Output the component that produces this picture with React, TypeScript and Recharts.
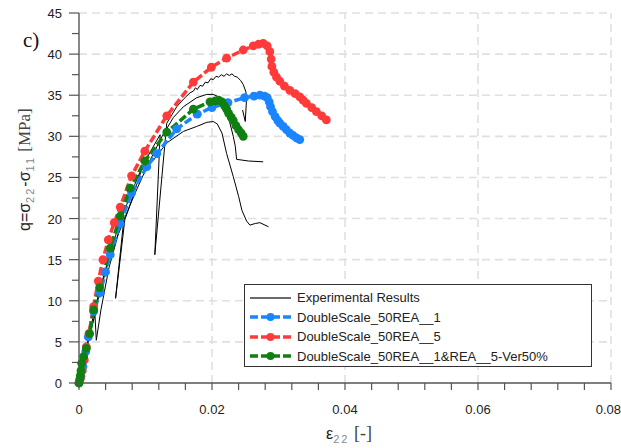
import React from 'react';
import { LineChart, Line, XAxis, YAxis, ReferenceLine } from 'recharts';

type Pt = { x: number; y: number };

// strain eps22 [-], stress q [MPa]
const blueSeries = [
  [0, 0], [0.0003, 0.8], [0.0006, 2.0], [0.001, 3.8], [0.0014, 5.6], [0.0022, 8.7],
  [0.0032, 11.0], [0.004, 13.5], [0.0047, 15.6], [0.0062, 19.4], [0.0079, 23.1],
  [0.0102, 26.3], [0.0117, 27.9], [0.0147, 30.9], [0.0178, 32.7], [0.02, 33.5],
  [0.0224, 34.1], [0.0249, 34.7], [0.0263, 34.9], [0.0272, 35.0], [0.0279, 34.9],
  [0.0283, 34.7], [0.0286, 34.2], [0.0288, 33.6], [0.0291, 33.0], [0.0295, 32.4],
  [0.0299, 31.9], [0.0302, 31.6], [0.0307, 31.2], [0.0312, 30.8], [0.0317, 30.4],
  [0.0322, 30.1], [0.0327, 29.8], [0.0332, 29.6],
];

const redSeries = [
  [0, 0], [0.0002, 0.5], [0.0005, 1.5], [0.0008, 2.8], [0.0011, 4.4], [0.0015, 6.0],
  [0.0022, 9.3], [0.0029, 12.4], [0.0036, 15.0], [0.0044, 17.4], [0.0053, 19.5],
  [0.0062, 21.4], [0.0079, 25.2], [0.0099, 28.2], [0.0132, 32.5], [0.0172, 36.6],
  [0.0199, 38.4], [0.0222, 39.5], [0.0247, 40.5], [0.0262, 41.0], [0.027, 41.2],
  [0.0277, 41.3], [0.0283, 41.0], [0.0287, 40.3], [0.0289, 39.4], [0.029, 38.5],
  [0.0293, 37.8], [0.0297, 37.2], [0.0302, 36.7], [0.0309, 36.1], [0.0317, 35.6],
  [0.0325, 35.2], [0.0332, 34.8], [0.0337, 34.4], [0.0342, 34.0], [0.035, 33.5],
  [0.0357, 33.0], [0.0365, 32.5], [0.0372, 32.0],
];

const greenSeries = [
  [0, 0], [0.0001, 0.4], [0.0002, 0.9], [0.0003, 1.5], [0.0004, 2.4], [0.0007, 3.2],
  [0.0011, 4.2], [0.0016, 6.0], [0.0022, 8.9], [0.0031, 11.6], [0.0047, 16.4],
  [0.0062, 20.3], [0.0077, 23.7], [0.0099, 27.0], [0.0132, 30.5], [0.0172, 33.3],
  [0.0197, 34.2], [0.0205, 34.3], [0.021, 34.4], [0.0215, 34.2], [0.0219, 33.7],
  [0.0222, 33.3], [0.0225, 32.8], [0.0229, 32.3], [0.0232, 31.9], [0.0236, 31.3],
  [0.024, 30.8], [0.0244, 30.4], [0.0247, 30.0],
];

// experimental tests (with unload/reload loops)
const expUpper = [
  [0, 0], [0.001, 3.8], [0.002, 7.6], [0.003, 11.0], [0.0045, 15.3], [0.006, 19.2],
  [0.0078, 23.0], [0.0095, 26.3], [0.0112, 28.8], [0.0122, 30.2], [0.0114, 15.6],
  [0.0132, 31.6], [0.0147, 33.6], [0.0158, 34.6], [0.0167, 35.3], [0.0172, 35.5],
  [0.0175, 35.9], [0.0178, 35.7], [0.0182, 36.2], [0.0186, 36.1], [0.019, 36.6],
  [0.0194, 36.5], [0.0198, 37.0], [0.0202, 36.9], [0.0206, 37.3], [0.021, 37.2],
  [0.0214, 37.5], [0.0218, 37.3], [0.0222, 37.6], [0.0226, 37.4], [0.023, 37.6],
  [0.0234, 37.3], [0.0238, 37.2], [0.0243, 36.8], [0.0247, 36.3], [0.0251, 35.4],
  [0.0252, 34.6], [0.0251, 33.2], [0.025, 31.8], [0.0246, 33.2],
];

const expMiddle = [
  [0, 0], [0.0012, 4.5], [0.0024, 8.3], [0.0026, 5.2], [0.0033, 8.9], [0.0045, 14.0],
  [0.006, 18.4], [0.0085, 23.2], [0.0105, 26.8], [0.0125, 30.0], [0.0142, 32.3],
  [0.0157, 33.6], [0.0177, 34.7], [0.0192, 35.1], [0.0202, 35.1], [0.021, 34.8],
  [0.0217, 34.4], [0.0222, 32.8], [0.0227, 31.6], [0.0232, 30.0], [0.0235, 28.8],
  [0.0237, 27.2], [0.0255, 27.0], [0.0277, 26.9],
];

const expLower = [
  [0, 0], [0.0015, 5.5], [0.003, 10.6], [0.0045, 15.0], [0.0058, 17.9], [0.0067, 19.6],
  [0.0055, 10.3], [0.0069, 19.9], [0.0074, 21.0], [0.0094, 25.9], [0.0112, 27.1],
  [0.0132, 29.2], [0.0157, 30.6], [0.0177, 31.2], [0.0192, 31.7], [0.0202, 31.8],
  [0.0208, 31.5], [0.0215, 30.4], [0.0222, 27.9], [0.0232, 25.1], [0.024, 22.7],
  [0.0245, 21.0], [0.0252, 19.7], [0.0257, 19.2], [0.0265, 19.4], [0.0272, 19.5],
  [0.0285, 19.0],
];

const xTicks = [
  0, 0.004, 0.008, 0.012, 0.016, 0.02, 0.024, 0.028, 0.032, 0.036, 0.04,
  0.044, 0.048, 0.052, 0.056, 0.06, 0.064, 0.068, 0.072, 0.076, 0.08,
];
const xLabels = [0, 0.02, 0.04, 0.06, 0.08];
const yTicks = [
  0, 2.5, 5, 7.5, 10, 12.5, 15, 17.5, 20, 22.5, 25, 27.5, 30, 32.5, 35, 37.5, 40, 42.5, 45,
];
const yLabels = [0, 5, 10, 15, 20, 25, 30, 35, 40, 45];

const legendItems = [
  { name: 'Experimental Results', color: '#6a6a6a', dashed: false },
  { name: 'DoubleScale_50REA__1', color: '#1a85ff', dashed: true },
  { name: 'DoubleScale_50REA__5', color: '#ff3a3a', dashed: true },
  { name: 'DoubleScale_50REA__1&REA__5-Ver50%', color: '#108010', dashed: true },
];

const toPts = (a: number[][]): Pt[] => a.map(([x, y]) => ({ x, y }));

const SANS = '"Liberation Sans", Arial, sans-serif';
const SERIF = '"Liberation Serif", "Times New Roman", serif';
const AXIS = '#555';

const XTick = ({ x, y, payload }: any) => {
  const v = payload.value;
  const isLabel = xLabels.some(l => Math.abs(l - v) < 1e-9);
  const last = Math.abs(v - 0.08) < 1e-9;
  return (
    <g>
      <line x1={x} x2={x} y1={y} y2={y + 7} stroke={AXIS} strokeWidth={1.2} />
      {isLabel && (
        <text
          x={last ? x + 10 : x}
          y={y + 31}
          textAnchor={last ? 'end' : 'middle'}
          fontFamily={SANS}
          fontSize={13}
          fill="#222"
        >
          {v === 0 ? '0' : v.toFixed(2)}
        </text>
      )}
    </g>
  );
};

const YTick = ({ x, y, payload }: any) => {
  const v = payload.value;
  const isLabel = yLabels.includes(v);
  return (
    <g>
      <line x1={x - (isLabel ? 10 : 7)} x2={x} y1={y} y2={y} stroke={AXIS} strokeWidth={1.2} />
      {isLabel && (
        <text x={x - 17} y={y + 5} textAnchor="end" fontFamily={SANS} fontSize={13} fill="#222">
          {v}
        </text>
      )}
    </g>
  );
};

const colored = [
  { data: blueSeries, color: '#1a85ff' },
  { data: redSeries, color: '#ff3a3a' },
  { data: greenSeries, color: '#108010' },
];

export default function App() {
  return (
    <div style={{ position: 'absolute', left: 0, top: 0, width: 621, height: 448, background: '#fff' }}>
      <LineChart width={621} height={448} margin={{ top: 13, right: 10, bottom: 0, left: 0 }}>
        <XAxis
          type="number"
          dataKey="x"
          domain={[0, 0.08]}
          ticks={xTicks}
          interval={0}
          height={65}
          tickSize={0}
          tickMargin={0}
          tickLine={false}
          axisLine={{ stroke: AXIS, strokeWidth: 1.4 }}
          tick={<XTick />}
        />
        <YAxis
          type="number"
          dataKey="y"
          domain={[0, 45]}
          ticks={yTicks}
          interval={0}
          width={79}
          tickSize={0}
          tickMargin={0}
          tickLine={false}
          axisLine={{ stroke: AXIS, strokeWidth: 1.4 }}
          tick={<YTick />}
        />
        {xLabels.slice(1).map(v => (
          <ReferenceLine key={'gx' + v} x={v} stroke="#e0e0e0" strokeWidth={1.6} strokeDasharray="8 5" />
        ))}
        {yLabels.slice(1).map(v => (
          <ReferenceLine key={'gy' + v} y={v} stroke="#e0e0e0" strokeWidth={1.6} strokeDasharray="8 5" />
        ))}
        {[expUpper, expMiddle, expLower].map((d, i) => (
          <Line
            key={'exp' + i}
            data={toPts(d)}
            dataKey="y"
            type="linear"
            stroke="#000"
            strokeWidth={1}
            dot={false}
            isAnimationActive={false}
          />
        ))}
        {colored.map((s, i) => (
          <Line
            key={'sim' + i}
            data={toPts(s.data)}
            dataKey="y"
            type="linear"
            stroke={s.color}
            strokeWidth={3.5}
            strokeDasharray="8 3"
            dot={{ r: 4.4, fill: s.color, stroke: 'none' }}
            isAnimationActive={false}
          />
        ))}
      </LineChart>

      <svg
        width={621}
        height={448}
        style={{ position: 'absolute', left: 0, top: 0, pointerEvents: 'none' }}
      >
        <text x={23} y={47} fontFamily={SERIF} fontSize={21} fill="#111">c)</text>
        <text transform="translate(30,231) rotate(-90)" fontFamily={SANS} fontSize={16} fill="#222">
          q=σ
          <tspan dy={4} fontSize={11} fill="#888" letterSpacing={2}>22</tspan>
          <tspan dy={-4}>-σ</tspan>
          <tspan dy={4} fontSize={11} fill="#888" letterSpacing={2}>11</tspan>
          <tspan dy={-4} fontFamily={SERIF} fontSize={17} fill="#444"> [MPa]</tspan>
        </text>
        <text x={326} y={439} fontFamily={SANS} fontSize={16} fill="#222">
          ε
          <tspan dy={4} fontSize={11} fill="#888" letterSpacing={2}>22</tspan>
          <tspan dy={-4} fontFamily={SERIF} fontSize={18} fill="#444"> [-]</tspan>
        </text>
      </svg>

      <div
        style={{
          position: 'absolute',
          left: 244,
          top: 284,
          width: 348,
          height: 83,
          boxSizing: 'border-box',
          border: '1.5px solid #333',
          background: '#fff',
          paddingTop: 3,
          fontFamily: SANS,
          fontSize: 13,
          color: '#222',
        }}
      >
        {legendItems.map(item => (
          <div key={item.name} style={{ display: 'flex', alignItems: 'center', height: 19.5 }}>
            <svg width={52} height={12} style={{ flex: 'none' }}>
              <line
                x1={5}
                x2={46}
                y1={6}
                y2={6}
                stroke={item.color}
                strokeWidth={item.dashed ? 3.5 : 2}
                strokeDasharray={item.dashed ? '8 3' : undefined}
              />
              {item.dashed && <circle cx={25.5} cy={6} r={4} fill={item.color} />}
            </svg>
            <span style={{ whiteSpace: 'nowrap' }}>{item.name}</span>
          </div>
        ))}
      </div>
    </div>
  );
}
